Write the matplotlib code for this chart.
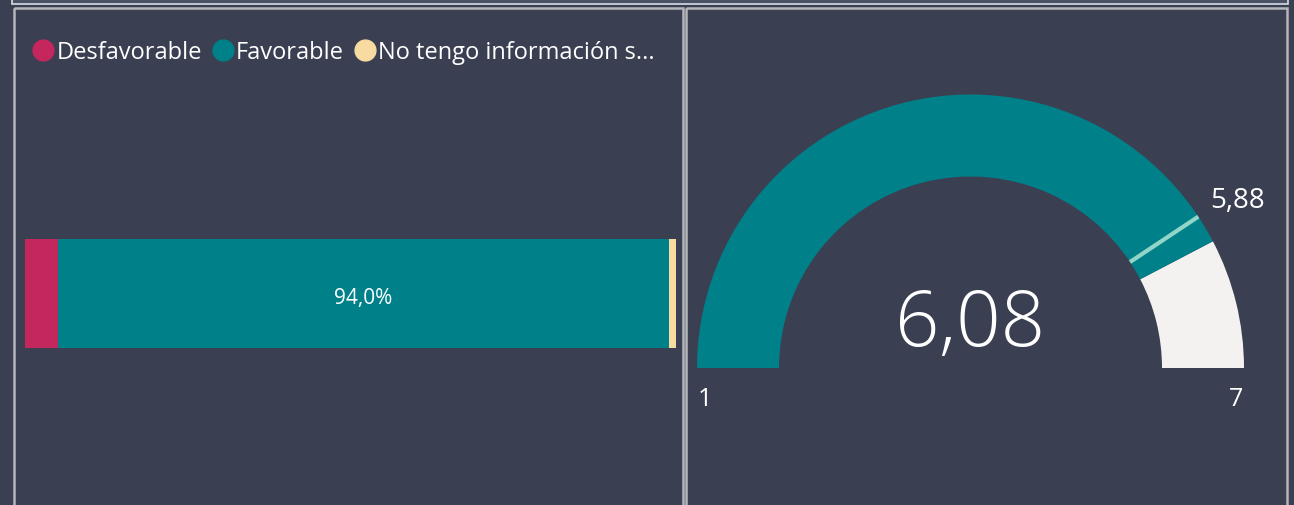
import matplotlib.pyplot as plt
from matplotlib.patches import Wedge, Rectangle
from matplotlib.lines import Line2D
import numpy as np

# datos
categorias = ["Desfavorable", "Favorable", "No tengo información s..."]
porcentajes = [5.0, 94.0, 1.0]
colores = ["#c4265e", "#008089", "#f8dba0"]

gauge_min = 1
gauge_max = 7
gauge_valor = 6.08
gauge_meta = 5.88

fondo = "#3a3f51"
W, H = 1294, 506

plt.rcParams["font.family"] = ["Open Sans", "DejaVu Sans"]

fig = plt.figure(figsize=(W / 100, H / 100), dpi=100)
fig.patch.set_facecolor(fondo)


def px_rect(x0, y0, x1, y1):
    # caja en pixeles (origen arriba-izq) -> fraccion de figura
    return [x0 / W, 1 - y1 / H, (x1 - x0) / W, (y1 - y0) / H]


# capa de fondo con bordes de paneles
base = fig.add_axes([0, 0, 1, 1])
base.set_xlim(0, W)
base.set_ylim(H, 0)
base.axis("off")
base.add_patch(Rectangle((12, -5), 1276, 10, facecolor="#4a5265", edgecolor="#d8dce4", lw=1.2))
base.add_patch(Rectangle((13.5, 9), 669, 520, facecolor="none", edgecolor="#b4b6ba", lw=1.8))
base.add_patch(Rectangle((685.5, 9), 601.5, 520, facecolor="none", edgecolor="#b4b6ba", lw=1.8))

# barra apilada
ax = fig.add_axes(px_rect(25, 240, 676, 349))
ax.set_facecolor(fondo)
izq = 0
for cat, val, col in zip(categorias, porcentajes, colores):
    ax.barh(0, val, left=izq, height=1, color=col, label=cat)
    if val > 50:
        ax.text(izq + val / 2, -0.04, f"{val:.1f}%".replace(".", ","), ha="center", va="center",
                color="white", fontsize=15)
    izq += val
ax.set_xlim(0, sum(porcentajes))
ax.set_ylim(-0.5, 0.5)
ax.axis("off")

handles = [Line2D([], [], marker="o", ls="", color=c, markersize=15) for c in colores]
fig.legend(handles, categorias, loc="center left", bbox_to_anchor=(21 / W, 1 - 53 / H),
           ncol=3, frameon=False, fontsize=17, labelcolor="white",
           handletextpad=0.0, columnspacing=0.35, handlelength=1.1, borderaxespad=0)

# medidor
g = fig.add_axes([0, 0, 1, 1])
g.set_xlim(0, W)
g.set_ylim(0, H)
g.axis("off")
cx, cy = 970.5, H - 369
r_out, r_in = 273.5, 191.5


def ang(v):
    return 180 * (1 - (v - gauge_min) / (gauge_max - gauge_min))


a_val = ang(gauge_valor)
g.add_patch(Wedge((cx, cy), r_out, 0, a_val, width=r_out - r_in, facecolor="#f3f2f1", edgecolor="none"))
g.add_patch(Wedge((cx, cy), r_out, a_val, 180, width=r_out - r_in, facecolor="#008089", edgecolor="none"))

a_meta = np.radians(ang(gauge_meta))
g.plot([cx + r_in * np.cos(a_meta), cx + r_out * np.cos(a_meta)],
       [cy + r_in * np.sin(a_meta), cy + r_out * np.sin(a_meta)],
       color="#8fd6c8", lw=3, solid_capstyle="butt")

g.text(cx, cy + 43, f"{gauge_valor:.2f}".replace(".", ","), ha="center", va="center",
       color="white", fontsize=56, fontweight="light")
g.text(cx - r_out + 8, cy - 31, str(gauge_min), ha="center", va="center", color="white", fontsize=18)
g.text(cx + r_out - 8, cy - 31, str(gauge_max), ha="center", va="center", color="white", fontsize=18)
g.text(1238, H - 201, f"{gauge_meta:.2f}".replace(".", ","), ha="center", va="center",
       color="white", fontsize=20)

fig.savefig("out.png", dpi=100, facecolor=fondo)
